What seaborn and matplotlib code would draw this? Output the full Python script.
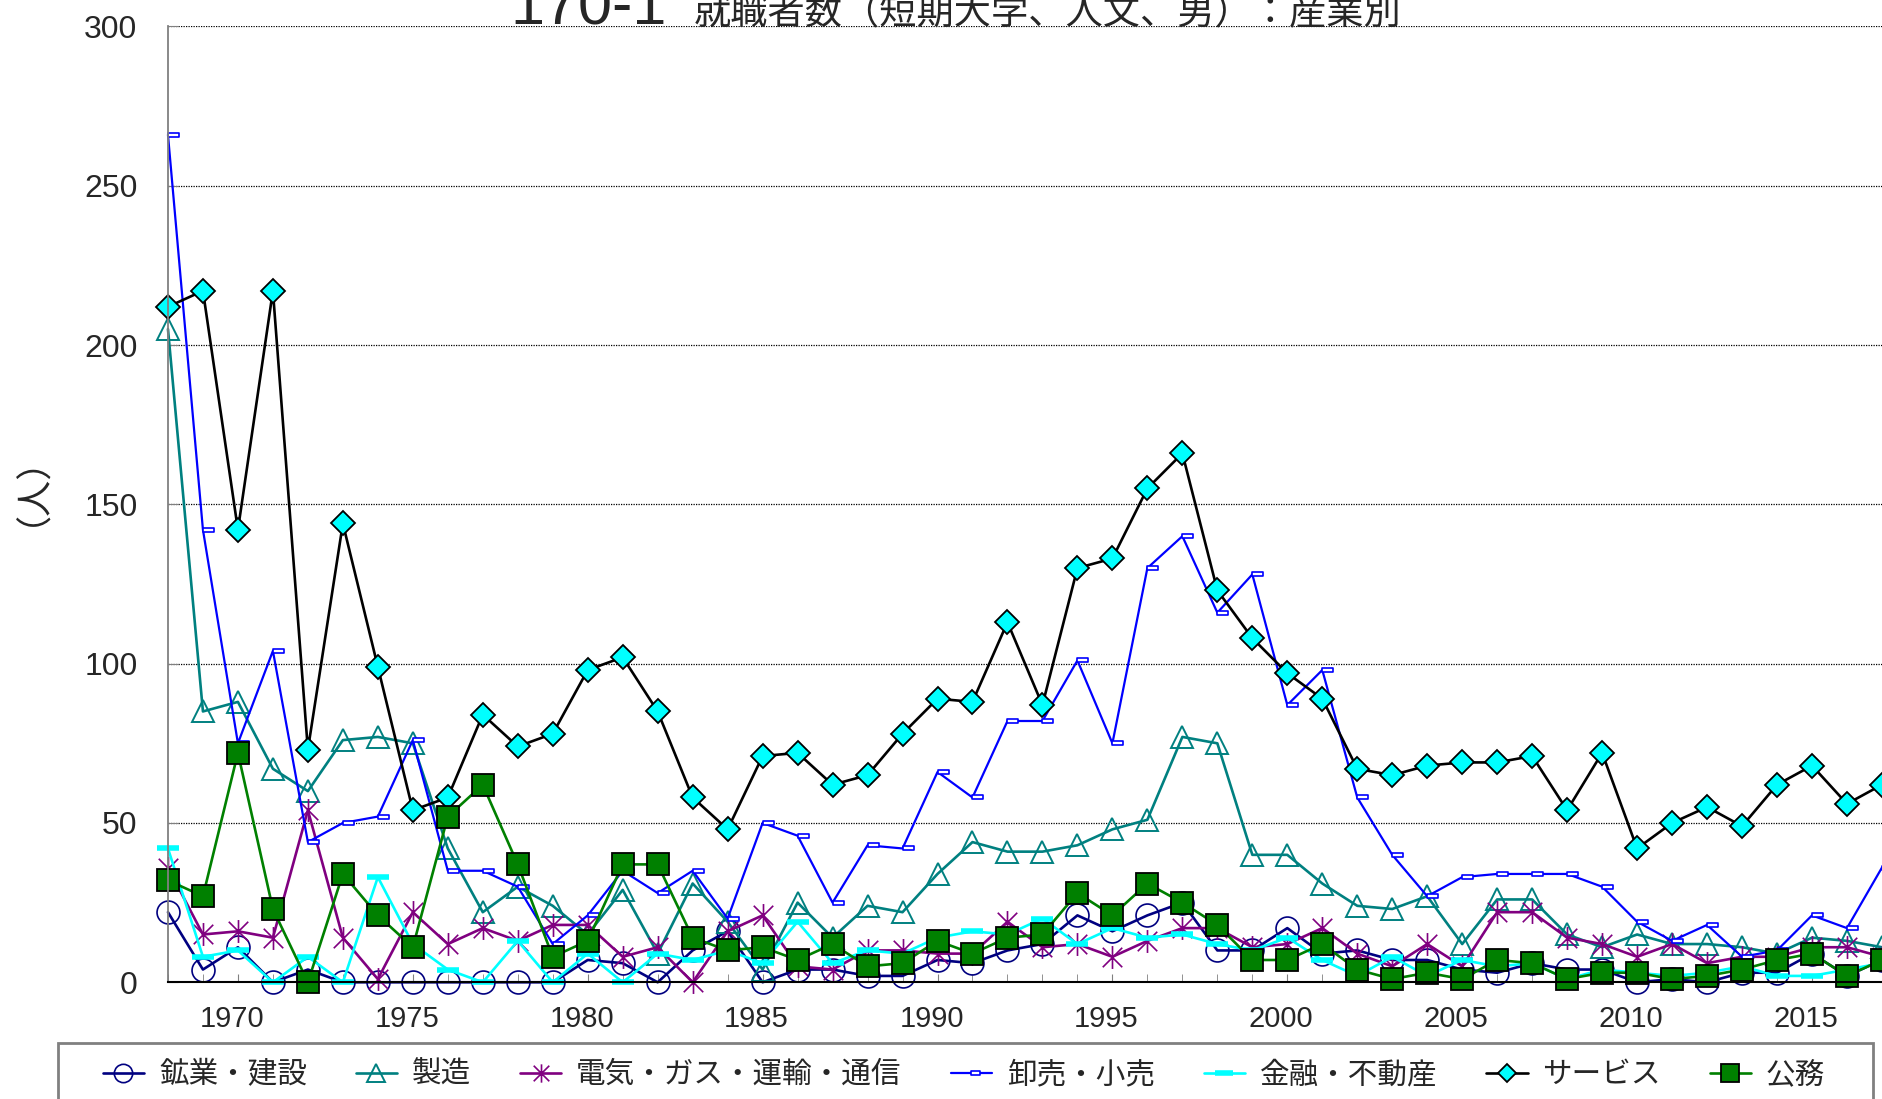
import matplotlib
matplotlib.use('Agg')
import matplotlib.pyplot as plt
import seaborn as sns
from matplotlib.path import Path
from matplotlib.patches import Rectangle
from matplotlib.ticker import MultipleLocator
from matplotlib.transforms import ScaledTranslation

# データ（1968〜2017年）
years = list(range(1968, 2018))

mining = [22, 4, 11, 0, 4, 0, 0, 0, 0, 0, 0, 0, 7, 6, 0, 10, 16, 0, 4, 4,
          2, 2, 7, 6, 10, 12, 21, 16, 21, 25, 10, 10, 17, 9, 10, 7, 7, 4, 3, 6,
          4, 4, 0, 1, 0, 3, 3, 9, 2, 7]
manufacturing = [205, 85, 88, 67, 60, 76, 77, 75, 42, 22, 30, 24, 15, 29, 9, 31, 19, 4, 25, 14,
                 24, 22, 34, 44, 41, 41, 43, 48, 51, 77, 75, 40, 40, 31, 24, 23, 27, 12, 26, 26,
                 15, 11, 15, 12, 12, 11, 9, 14, 13, 11]
utilities = [36, 15, 16, 14, 54, 14, 1, 22, 12, 17, 13, 18, 18, 8, 11, 0, 16, 21, 5, 4,
             10, 10, 9, 9, 19, 11, 12, 8, 13, 17, 17, 11, 12, 17, 9, 5, 12, 5, 22, 22,
             14, 12, 8, 12, 6, 8, 8, 11, 11, 8]
wholesale = [266, 142, 75, 104, 44, 50, 52, 76, 35, 35, 30, 12, 21, 35, 28, 35, 20, 50, 46, 25,
             43, 42, 66, 58, 82, 82, 101, 75, 130, 140, 116, 128, 87, 98, 58, 40, 27, 33, 34, 34,
             34, 30, 19, 13, 18, 8, 10, 21, 17, 36]
finance = [42, 8, 10, 0, 8, 0, 33, 12, 4, 0, 13, 0, 9, 0, 9, 7, 10, 6, 19, 6,
           10, 9, 14, 16, 15, 20, 12, 17, 14, 15, 12, 10, 14, 7, 2, 8, 2, 7, 5, 6,
           1, 4, 3, 2, 3, 5, 2, 2, 4, 6]
service = [212, 217, 142, 217, 73, 144, 99, 54, 58, 84, 74, 78, 98, 102, 85, 58, 48, 71, 72, 62,
           65, 78, 89, 88, 113, 87, 130, 133, 155, 166, 123, 108, 97, 89, 67, 65, 68, 69, 69, 71,
           54, 72, 42, 50, 55, 49, 62, 68, 56, 62]
public = [32, 27, 72, 23, 0, 34, 21, 11, 52, 62, 37, 8, 13, 37, 37, 14, 10, 11, 7, 12,
          5, 6, 13, 9, 14, 15, 28, 21, 31, 25, 18, 7, 7, 12, 4, 1, 3, 1, 7, 6,
          1, 3, 3, 1, 2, 4, 7, 9, 2, 7]

labels = ['鉱業・建設', '製造', '電気・ガス・運輸・通信', '卸売・小売', '金融・不動産', 'サービス', '公務']

sns.set_style('white')
plt.rcParams['font.family'] = ['Liberation Sans', 'Noto Sans CJK JP']

# マーカー（アスタリスクと小さな長方形）
asterisk = Path([(0, -1), (0, 1), (-0.85, -0.85), (0.85, 0.85), (-0.85, 0.85), (0.85, -0.85)],
                [Path.MOVETO, Path.LINETO] * 3)
dash_box = Path([(0, -0.2), (1, -0.2), (1, 0.2), (0, 0.2), (0, -0.2)],
                [Path.MOVETO, Path.LINETO, Path.LINETO, Path.LINETO, Path.CLOSEPOLY])

styles = [
    (mining, dict(color='#000080', marker='o', markersize=16.5, markerfacecolor='none',
                  markeredgecolor='#000080', markeredgewidth=1.2)),
    (manufacturing, dict(color='#008080', marker='^', markersize=16, markerfacecolor='none',
                         markeredgecolor='#008080', markeredgewidth=1.4)),
    (utilities, dict(color='#800080', marker=asterisk, markersize=16.5, markerfacecolor='none',
                     markeredgecolor='#800080', markeredgewidth=1.2)),
    (wholesale, dict(color='#0000FF', marker=dash_box, markersize=16, markerfacecolor='white',
                     markeredgecolor='#0000FF', markeredgewidth=1.2, linewidth=1.6)),
    (finance, dict(color='#00FFFF', marker='_', markersize=16.5, markeredgecolor='#00FFFF',
                   markeredgewidth=4)),
    (service, dict(color='black', marker='D', markersize=12, markerfacecolor='#00FFFF',
                   markeredgecolor='black', markeredgewidth=1.3)),
    (public, dict(color='#008000', marker='s', markersize=16, markerfacecolor='#008000',
                  markeredgecolor='black', markeredgewidth=1.3)),
]

fig = plt.figure(figsize=(18.83, 10.99), dpi=100)
ax = fig.add_axes([0.0892, 0.1062, 0.9474, 0.8698])

for (vals, kw), name in zip(styles, labels):
    kw.setdefault('linewidth', 1.9)
    sns.lineplot(x=years, y=vals, ax=ax, label=name, legend=False, errorbar=None,
                 clip_on=False, **kw)

ax.set_xlim(1968, 2019)
ax.set_ylim(0, 300)
ax.set_xlabel('')
ax.set_ylabel('')

ax.xaxis.set_major_locator(MultipleLocator(5))
ax.xaxis.set_minor_locator(MultipleLocator(1))
ax.yaxis.set_major_locator(MultipleLocator(50))

ax.tick_params(axis='x', which='both', direction='in', length=6, color='#808080',
               pad=16, labelsize=21, bottom=True)
ax.tick_params(axis='y', direction='in', length=7, color='#808080', pad=22,
               labelsize=23, left=True)

# 年ラベルを目盛りより少し左に寄せる
shift = ScaledTranslation(-6 / 100, 0, fig.dpi_scale_trans)
for lbl in ax.get_xticklabels():
    lbl.set_transform(lbl.get_transform() + shift)

ax.yaxis.grid(True, linestyle=(0, (1, 1)), color='black', linewidth=0.9)
ax.get_ygridlines()[-1].set_visible(False)
ax.get_ygridlines()[0].set_visible(False)
ax.xaxis.grid(False)

for side in ['top', 'right']:
    ax.spines[side].set_visible(False)
ax.spines['left'].set_color('#808080')
ax.spines['left'].set_linewidth(1.3)
ax.spines['bottom'].set_color('black')
ax.spines['bottom'].set_linewidth(1.5)

# タイトルと軸ラベル
fig.text(0.2708, 0.978, '170-1', fontsize=44, ha='left', va='baseline')
fig.text(0.3686, 0.978, '就職者数（短期大学、人文、男）：産業別', fontsize=26.8,
         ha='left', va='baseline')
fig.text(0.0075, 0.571, '（人）', fontsize=26, rotation=90, ha='center', va='center')

# 凡例
fig.patches.append(Rectangle((0.0306, -0.2), 0.9641, 0.2512, transform=fig.transFigure,
                             fill=False, edgecolor='#808080', linewidth=2))
handles, names = ax.get_legend_handles_labels()
fig.legend(handles, names, ncol=7, loc='center left', bbox_to_anchor=(0.0467, 0.0218),
           frameon=False, fontsize=21.3, handlelength=1.4, handletextpad=0.5,
           columnspacing=1.65, borderpad=0, markerscale=0.8)

fig.savefig('out.png', dpi=100)
